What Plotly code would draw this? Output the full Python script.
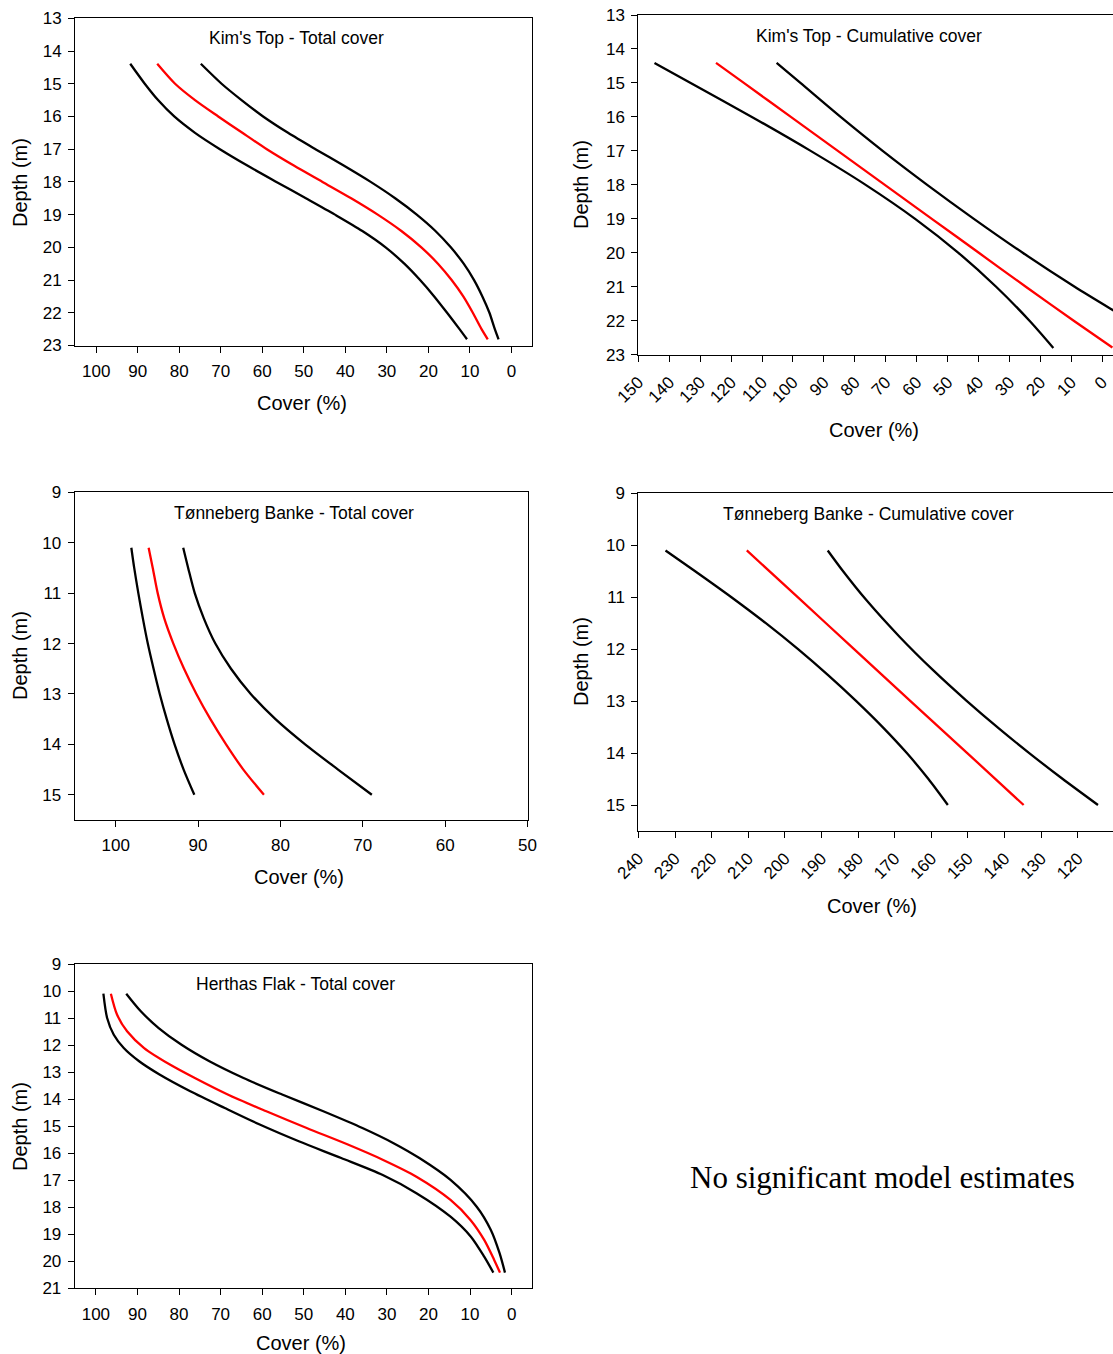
import plotly.graph_objects as go

W, H = 1113, 1354

# ---------------- data ----------------
# Kim's Top - Total cover
kt_depth = [14.39, 15, 15.5, 16, 16.5, 17, 17.5, 18, 18.5, 19, 19.5, 20, 20.5, 21, 21.5, 22, 22.5, 22.81]
kt_low = [91.8, 88.3, 85.1, 81.2, 76.2, 70.2, 63.6, 56.6, 49.5, 42.5, 35.9, 30.3, 25.8, 22.0, 18.6, 15.5, 12.5, 10.7]
kt_mean = [85.3, 81.0, 76.2, 70.6, 64.8, 58.9, 52.4, 45.5, 38.6, 32.2, 26.5, 21.7, 17.7, 14.4, 11.6, 9.3, 7.2, 5.7]
kt_high = [74.8, 69.8, 65.0, 59.8, 53.8, 47.2, 40.4, 33.9, 28.0, 22.8, 18.3, 14.6, 11.5, 9.0, 7.0, 5.3, 4.0, 3.1]

# Kim's Top - Cumulative cover
kc_low_d = [14.41, 15, 16, 17, 18, 19, 20, 21, 22, 22.8]
kc_low = [144.8, 133.1, 113.3, 94.3, 76.5, 60.5, 46.5, 34.3, 23.5, 15.8]
kc_mean_d = [14.41, 15, 16, 17, 18, 19, 20, 21, 22, 22.79]
kc_mean = [124.9, 115.9, 100.7, 85.5, 70.3, 55.1, 39.9, 24.7, 9.2, -3.3]
kc_high_d = [14.41, 15, 16, 17, 18, 19, 20, 21, 21.69, 22, 22.8]
kc_high = [105.3, 97.6, 84.6, 71.0, 56.6, 41.5, 25.7, 8.9, -3.5, -9.2, -24.4]

# Tønneberg Banke - Total cover
tt_depth = [10.1, 10.5, 11, 11.5, 12, 12.5, 13, 13.5, 14, 14.5, 15]
tt_low = [98.1, 97.75, 97.25, 96.7, 96.1, 95.4, 94.65, 93.8, 92.85, 91.75, 90.45]
tt_mean = [96.0, 95.5, 94.9, 94.1, 93.0, 91.7, 90.2, 88.5, 86.6, 84.5, 82.0]
tt_high = [91.8, 91.2, 90.4, 89.3, 87.9, 86.0, 83.6, 80.6, 77.0, 73.0, 68.9]

# Tønneberg Banke - Cumulative cover
tc_low_d = [10.1, 10.5, 11, 11.5, 12, 12.5, 13, 13.5, 14, 14.5, 15]
tc_low = [232.6, 224.5, 214.6, 205.2, 196.4, 188.2, 180.5, 173.3, 166.7, 160.8, 155.5]
tc_mean_d = [10.1, 11, 12, 13, 14, 15]
tc_mean = [210.4, 196.5, 181.1, 165.7, 150.2, 134.8]
tc_high_d = [10.1, 10.5, 11.06, 11.76, 12.40, 12.98, 13.53, 14.01, 14.49, 15.0]
tc_high = [188.3, 184.1, 177.7, 168.7, 159.6, 150.6, 141.5, 133.1, 124.3, 114.5]

# Herthas Flak - Total cover
hf_low_d = [10.10, 11.0, 11.62, 12.11, 12.60, 13.09, 13.71, 14.33, 14.94, 15.56, 16.18, 16.81, 17.48, 18.35, 19.09, 19.83, 20.42]
hf_low = [98.2, 97.3, 95.7, 93.3, 89.6, 84.7, 77.3, 69.0, 60.6, 51.2, 41.0, 31.0, 22.9, 14.7, 9.8, 6.6, 4.4]
hf_mean_d = [10.10, 10.88, 11.49, 12.11, 12.73, 13.22, 13.83, 14.45, 15.07, 15.68, 16.25, 16.87, 17.73, 18.47, 19.21, 19.95, 20.42]
hf_mean = [96.4, 94.9, 92.5, 88.4, 82.1, 76.2, 68.3, 59.0, 49.3, 39.4, 30.9, 22.9, 14.7, 9.9, 6.6, 4.2, 2.8]
hf_high_d = [10.10, 10.75, 11.37, 11.99, 12.60, 13.22, 13.83, 14.45, 15.07, 15.63, 16.19, 16.99, 17.98, 18.84, 19.70, 20.42]
hf_high = [92.7, 89.2, 84.9, 79.4, 72.7, 64.5, 55.2, 45.3, 35.9, 28.4, 22.1, 14.7, 8.4, 5.0, 2.9, 1.6]

titles = ["Kim's Top - Total cover", "Kim's Top - Cumulative cover",
          "Tønneberg Banke - Total cover", "Tønneberg Banke - Cumulative cover",
          "Herthas Flak - Total cover"]
x_title = "Cover (%)"
y_title = "Depth (m)"
note = "No significant model estimates"

# ---------------- layout geometry (pixels) ----------------
panels = [
    dict(s=[(kt_low, kt_depth), (kt_mean, kt_depth), (kt_high, kt_depth)],
         box=(75, 532.2, 18.3, 345.5),
         xr=[105.1, -5], yr=[23, 13], xt=list(range(0, 101, 10)), yt=list(range(13, 24)),
         ang=0, mirror_y=True, tpos=(296.5, 37.7), xtpos=(302, 403), ytpos=(20, 183)),
    dict(s=[(kc_low, kc_low_d), (kc_mean, kc_mean_d), (kc_high, kc_high_d)],
         box=(638.4, 1113, 15, 354.7),
         xr=[150, -3.5], yr=[23, 13], xt=list(range(0, 151, 10)), yt=list(range(13, 24)),
         ang=-45, mirror_y=False, tpos=(869, 36), xtpos=(874, 430), ytpos=(581, 185)),
    dict(s=[(tt_low, tt_depth), (tt_mean, tt_depth), (tt_high, tt_depth)],
         box=(74.5, 527.5, 492.3, 820),
         xr=[105, 50], yr=[15.5, 9], xt=list(range(50, 101, 10)), yt=list(range(9, 16)),
         ang=0, mirror_y=True, tpos=(294, 512.7), xtpos=(299, 877), ytpos=(20, 656)),
    dict(s=[(tc_low, tc_low_d), (tc_mean, tc_mean_d), (tc_high, tc_high_d)],
         box=(638.4, 1113, 493.3, 831),
         xr=[240, 110.4], yr=[15.5, 9], xt=list(range(110, 241, 10)), yt=list(range(9, 16)),
         ang=-45, mirror_y=False, tpos=(868, 514), xtpos=(872, 906), ytpos=(581, 662)),
    dict(s=[(hf_low, hf_low_d), (hf_mean, hf_mean_d), (hf_high, hf_high_d)],
         box=(74.7, 532, 964, 1288.3),
         xr=[105.1, -4.9], yr=[21, 9], xt=list(range(0, 101, 10)), yt=list(range(9, 22)),
         ang=0, mirror_y=True, tpos=(295.5, 984), xtpos=(301, 1343), ytpos=(20, 1127)),
]

FONT = "Arial, Liberation Sans, sans-serif"
colors = ["black", "red", "black"]

fig = go.Figure()
annotations = []
layout = {}

for i, p in enumerate(panels, start=1):
    sx = "" if i == 1 else str(i)
    for (xs, ds), col in zip(p["s"], colors):
        fig.add_trace(go.Scatter(
            x=xs, y=ds, mode="lines",
            line=dict(color=col, width=2.3, shape="spline", smoothing=0.8),
            xaxis="x" + sx, yaxis="y" + sx, showlegend=False, hoverinfo="skip"))
    x0, x1, y0, y1 = p["box"]
    layout["xaxis" + sx] = dict(
        domain=[x0 / W, min(x1 / W, 1.0)], range=p["xr"], anchor="y" + sx,
        tickmode="array", tickvals=p["xt"], ticktext=[str(v) for v in p["xt"]],
        ticks="outside", ticklen=6, tickwidth=1, tickcolor="black",
        showline=True, linecolor="black", linewidth=1, mirror=True,
        showgrid=False, zeroline=False, tickangle=p["ang"], automargin=False,
        tickfont=dict(family=FONT, size=17, color="black"),
        ticklabelstandoff=4, fixedrange=True)
    layout["yaxis" + sx] = dict(
        domain=[1 - y1 / H, 1 - y0 / H], range=p["yr"], anchor="x" + sx,
        tickmode="array", tickvals=p["yt"], ticktext=[str(v) for v in p["yt"]],
        ticks="outside", ticklen=6, tickwidth=1, tickcolor="black",
        showline=True, linecolor="black", linewidth=1, mirror=p["mirror_y"],
        showgrid=False, zeroline=False, automargin=False,
        tickfont=dict(family=FONT, size=17, color="black"),
        ticklabelstandoff=3, fixedrange=True)
    annotations.append(dict(text=titles[i - 1], x=p["tpos"][0] / W, y=1 - p["tpos"][1] / H,
                            xref="paper", yref="paper", showarrow=False,
                            xanchor="center", yanchor="middle",
                            font=dict(family=FONT, size=17.5, color="black")))
    annotations.append(dict(text=x_title, x=p["xtpos"][0] / W, y=1 - p["xtpos"][1] / H,
                            xref="paper", yref="paper", showarrow=False,
                            xanchor="center", yanchor="middle",
                            font=dict(family=FONT, size=20, color="black")))
    annotations.append(dict(text=y_title, x=p["ytpos"][0] / W, y=1 - p["ytpos"][1] / H,
                            xref="paper", yref="paper", showarrow=False, textangle=-90,
                            xanchor="center", yanchor="middle",
                            font=dict(family=FONT, size=20, color="black")))

annotations.append(dict(text=note, x=882 / W, y=1 - 1177 / H, xref="paper", yref="paper",
                        showarrow=False, xanchor="center", yanchor="middle",
                        font=dict(family="Liberation Serif, Times New Roman, serif",
                                  size=31, color="black")))

fig.update_layout(
    width=W, height=H, margin=dict(l=0, r=0, t=0, b=0, autoexpand=False),
    paper_bgcolor="white", plot_bgcolor="white",
    annotations=annotations, **layout)

fig.write_html("out.html", config={"displayModeBar": False},
               post_script="document.body.style.margin='0px';document.body.style.overflow='hidden';")
